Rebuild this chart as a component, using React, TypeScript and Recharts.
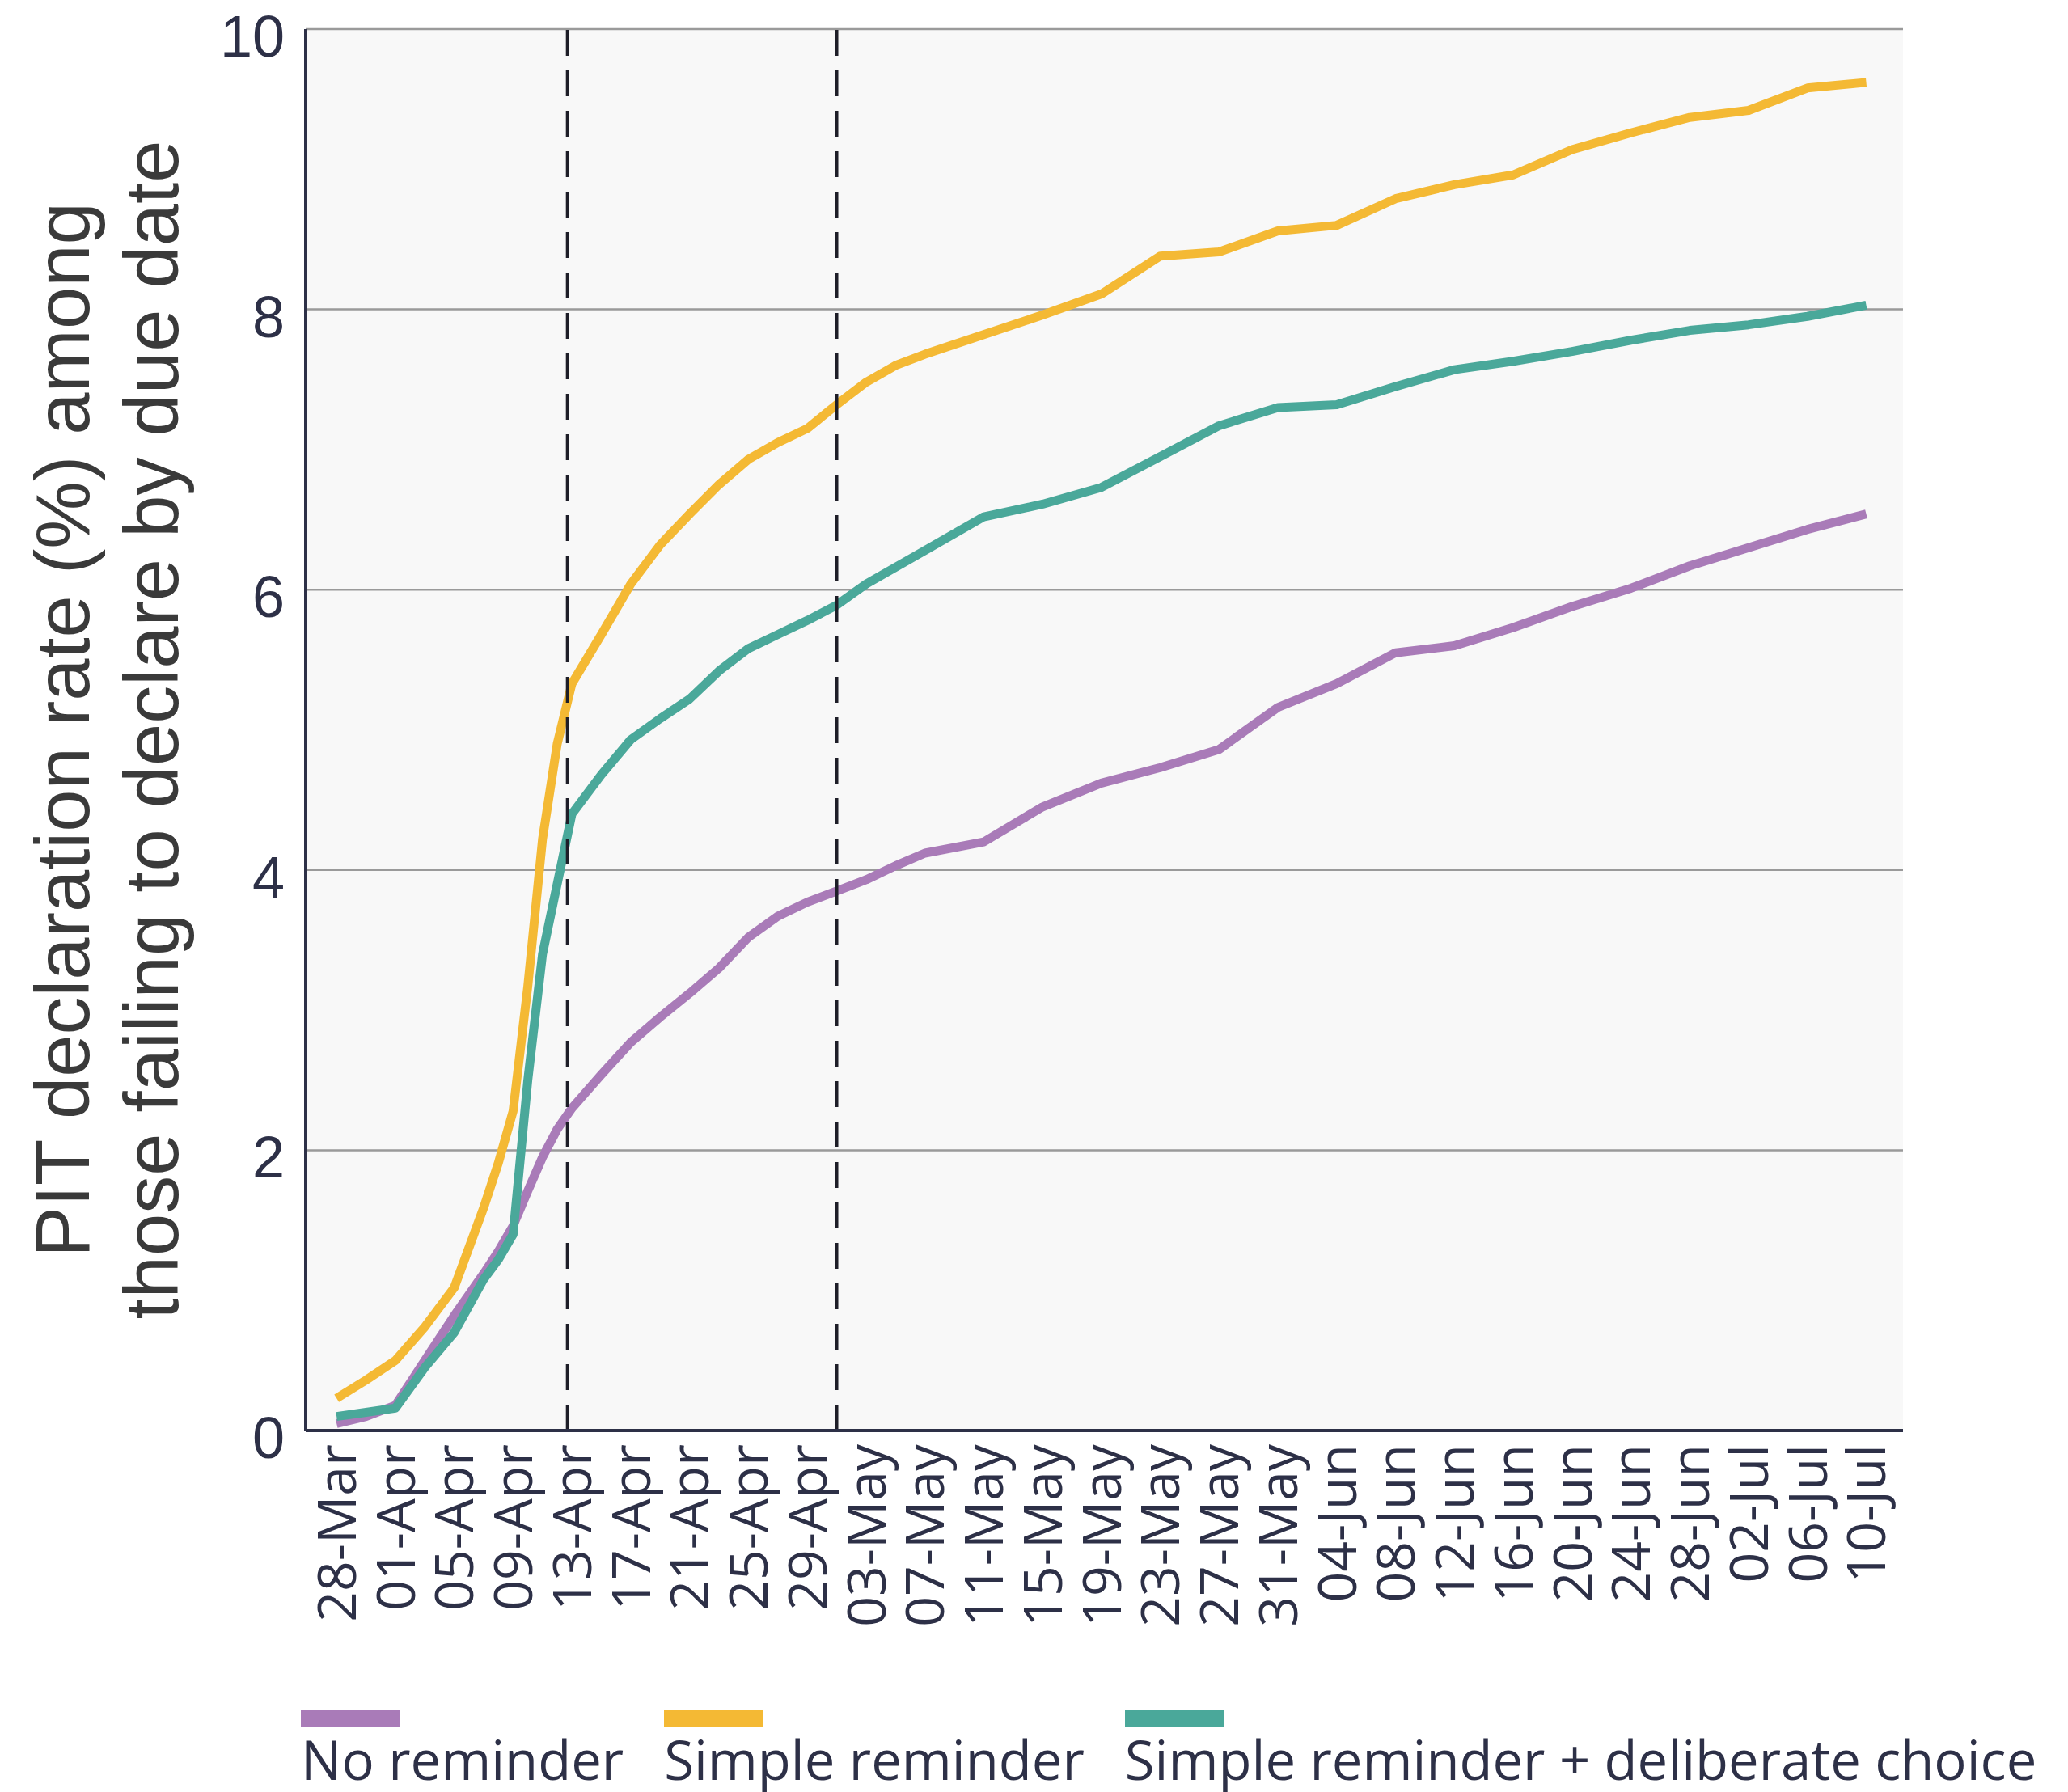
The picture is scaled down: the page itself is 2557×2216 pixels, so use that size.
import { CartesianGrid, Line, LineChart, ReferenceLine, XAxis, YAxis } from 'recharts';

// days since 28-Mar
const days = [
	0, 2, 4, 6, 8, 10, 11, 12, 13, 14, 15, 16, 18, 20, 22, 24, 26, 28, 30, 32, 34, 36, 38, 40,
	44, 48, 52, 56, 60, 64, 68, 72, 76, 80, 84, 88, 92, 96, 100, 104,
];

const noReminder = [
	0.05, 0.1, 0.18, 0.5, 0.82, 1.12, 1.28, 1.46, 1.71, 1.95, 2.15, 2.3, 2.54, 2.77, 2.95, 3.12,
	3.3, 3.52, 3.67, 3.77, 3.85, 3.93, 4.03, 4.12, 4.2, 4.45, 4.62, 4.73, 4.86, 5.16, 5.33, 5.55,
	5.6, 5.73, 5.88, 6.01, 6.17, 6.3, 6.43, 6.54,
];

const simpleReminder = [
	0.23, 0.36, 0.5, 0.74, 1.02, 1.59, 1.91, 2.28, 3.17, 4.22, 4.9, 5.33, 5.68, 6.04, 6.32, 6.54,
	6.75, 6.93, 7.05, 7.15, 7.32, 7.48, 7.6, 7.68, 7.82, 7.96, 8.11, 8.38, 8.41, 8.56, 8.6, 8.79,
	8.89, 8.96, 9.14, 9.26, 9.37, 9.42, 9.58, 9.62,
];

const deliberateChoice = [
	0.1, 0.13, 0.16, 0.45, 0.7, 1.08, 1.22, 1.4, 2.5, 3.4, 3.9, 4.4, 4.68, 4.93, 5.08, 5.22, 5.42,
	5.58, 5.68, 5.78, 5.89, 6.04, 6.16, 6.28, 6.52, 6.61, 6.73, 6.95, 7.17, 7.3, 7.32, 7.45, 7.57,
	7.63, 7.7, 7.78, 7.85, 7.89, 7.95, 8.03,
];

const tickDays = [
	0, 4, 8, 12, 16, 20, 24, 28, 32, 36, 40, 44, 48, 52, 56, 60, 64, 68, 72, 76, 80, 84, 88, 92,
	96, 100, 104,
];

const tickLabels = [
	'28-Mar', '01-Apr', '05-Apr', '09-Apr', '13-Apr', '17-Apr', '21-Apr', '25-Apr', '29-Apr',
	'03-May', '07-May', '11-May', '15-May', '19-May', '23-May', '27-May', '31-May', '04-Jun',
	'08-Jun', '12-Jun', '16-Jun', '20-Jun', '24-Jun', '28-Jun', '02-Jul', '06-Jul', '10-Jul',
];

const yTicks = [0, 2, 4, 6, 8, 10];

// reminder send-outs (dashed lines)
const reminderDays = [15.7, 34];

const series = [
	{ key: 'none', name: 'No reminder', color: '#a97bb8', values: noReminder },
	{ key: 'simple', name: 'Simple reminder', color: '#f4b934', values: simpleReminder },
	{ key: 'choice', name: 'Simple reminder + deliberate choice', color: '#4aa89a', values: deliberateChoice },
];

const data = days.map((day, i) => {
	const row: Record<string, number> = { day };
	series.forEach((s) => {
		row[s.key] = s.values[i];
	});
	return row;
});

const ink = '#2d3047';

function XTick({ x, y, payload }: any) {
	const label = tickLabels[tickDays.indexOf(payload.value)];
	return (
		<text
			x={x}
			y={y}
			transform={`rotate(-90 ${x} ${y})`}
			textAnchor="end"
			dy="0.36em"
			fill={ink}
			fontSize={66}
			fontFamily="'Open Sans', sans-serif"
		>
			{label}
		</text>
	);
}

function YTick({ x, y, payload }: any) {
	return (
		<text
			x={x}
			y={y + 8}
			textAnchor="end"
			dy="0.36em"
			fill={ink}
			fontSize={72}
			fontFamily="'Liberation Sans', Arial, sans-serif"
		>
			{payload.value}
		</text>
	);
}

function YTitle({ viewBox }: any) {
	const cy = viewBox.y + viewBox.height / 2;
	return (
		<g fill="#3a3a3a" fontSize={94} fontFamily="'Liberation Sans', Arial, sans-serif">
			<text x={110} y={cy} transform={`rotate(-90 110 ${cy})`} textAnchor="middle">
				PIT declaration rate (%) among
			</text>
			<text x={220} y={cy} transform={`rotate(-90 220 ${cy})`} textAnchor="middle">
				those failing to declare by due date
			</text>
		</g>
	);
}

export default function App() {
	return (
		<div style={{ position: 'absolute', left: 0, top: 0, width: 2557, height: 2216, background: '#fff' }}>
			<LineChart
				width={2557}
				height={2216}
				data={data}
				margin={{ top: 36, right: 204, left: 0, bottom: 0 }}
			>
				<CartesianGrid vertical={false} stroke="#9a9a9a" strokeWidth={2.5} fill="#f8f8f8" />
				<XAxis
					dataKey="day"
					type="number"
					domain={[-2.1, 106.5]}
					ticks={tickDays}
					interval={0}
					height={447}
					tickLine={false}
					tickMargin={11}
					axisLine={{ stroke: ink, strokeWidth: 4 }}
					tick={<XTick />}
				/>
				<YAxis
					type="number"
					domain={[0, 10]}
					ticks={yTicks}
					width={378}
					tickLine={false}
					tickMargin={20}
					axisLine={{ stroke: ink, strokeWidth: 4 }}
					tick={<YTick />}
					label={<YTitle />}
				/>
				{series.map((s) => (
					<Line
						key={s.key}
						type="linear"
						dataKey={s.key}
						name={s.name}
						stroke={s.color}
						strokeWidth={11}
						strokeLinejoin="round"
						dot={false}
						isAnimationActive={false}
					/>
				))}
				{reminderDays.map((d) => (
					<ReferenceLine key={d} x={d} stroke="#1e1e28" strokeWidth={4} strokeDasharray="32 18" />
				))}
			</LineChart>
			<div
				style={{
					position: 'absolute',
					left: 372,
					top: 2115,
					display: 'flex',
					gap: 50,
					fontFamily: "'Open Sans', sans-serif",
					fontSize: 67,
					color: ink,
					whiteSpace: 'nowrap',
				}}
			>
				{series.map((s) => (
					<div key={s.key}>
						<div style={{ width: 122, height: 21, background: s.color }} />
						<div style={{ lineHeight: 1, marginTop: 6 }}>{s.name}</div>
					</div>
				))}
			</div>
		</div>
	);
}
